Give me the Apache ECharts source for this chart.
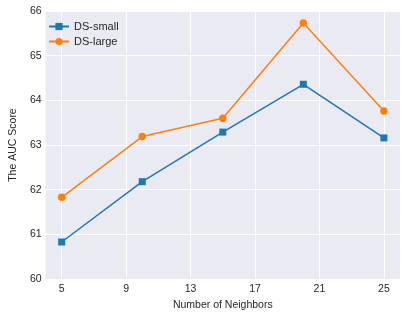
<!DOCTYPE html>
<html><head><meta charset="utf-8">
<script src="https://cdn.jsdelivr.net/npm/echarts@6/dist/echarts.min.js"></script>
<style>html,body{margin:0;padding:0;background:#fff}#c{width:407px;height:316px}</style>
</head><body><div id="c"></div>
<script>
const neighbors = [5, 10, 15, 20, 25];
const dsSmall = [60.83, 62.18, 63.29, 64.36, 63.16];
const dsLarge = [61.83, 63.19, 63.60, 65.73, 63.76];
const xTicks = [5, 9, 13, 17, 21, 25];
const font = 'Liberation Sans, Arial, sans-serif';
const chart = echarts.init(document.getElementById('c'));
chart.setOption({
  animation: false,
  backgroundColor: '#fff',
  grid: {left: 36, right: 7, top: 11, bottom: 34, show: true, backgroundColor: '#EAEAF2', borderWidth: 0},
  legend: {
    left: 43, top: 16, orient: 'vertical', itemGap: 4, itemWidth: 20, itemHeight: 9,
    textStyle: {fontFamily: font, fontSize: 11, color: '#262626'},
    data: [{name: 'DS-small'}, {name: 'DS-large'}]
  },
  xAxis: {
    type: 'value', min: 4, max: 26,
    name: 'Number of Neighbors', nameLocation: 'middle', nameGap: 20,
    nameTextStyle: {fontFamily: font, fontSize: 10.5, color: '#262626'},
    axisLine: {show: false}, axisTick: {show: false, customValues: xTicks},
    axisLabel: {customValues: xTicks, margin: 5, fontFamily: font, fontSize: 10.5, color: '#262626'},
    splitLine: {show: true, lineStyle: {color: '#fff', width: 1}}
  },
  yAxis: {
    type: 'value', min: 60, max: 66, interval: 1,
    name: 'The AUC Score', nameLocation: 'middle', nameGap: 23,
    nameTextStyle: {fontFamily: font, fontSize: 10.5, color: '#262626'},
    axisLine: {show: false}, axisTick: {show: false},
    axisLabel: {margin: 4, fontFamily: font, fontSize: 10.5, color: '#262626'},
    splitLine: {show: true, lineStyle: {color: '#fff', width: 1}}
  },
  series: [
    {name: 'DS-small', type: 'line', data: neighbors.map((x, i) => [x, dsSmall[i]]),
     symbol: 'rect', symbolSize: 7, color: '#1f77b4', lineStyle: {width: 1.5}, itemStyle: {borderWidth: 0}},
    {name: 'DS-large', type: 'line', data: neighbors.map((x, i) => [x, dsLarge[i]]),
     symbol: 'circle', symbolSize: 7.5, color: '#ff7f0e', lineStyle: {width: 1.5}, itemStyle: {borderWidth: 0}}
  ]
});
</script></body></html>
